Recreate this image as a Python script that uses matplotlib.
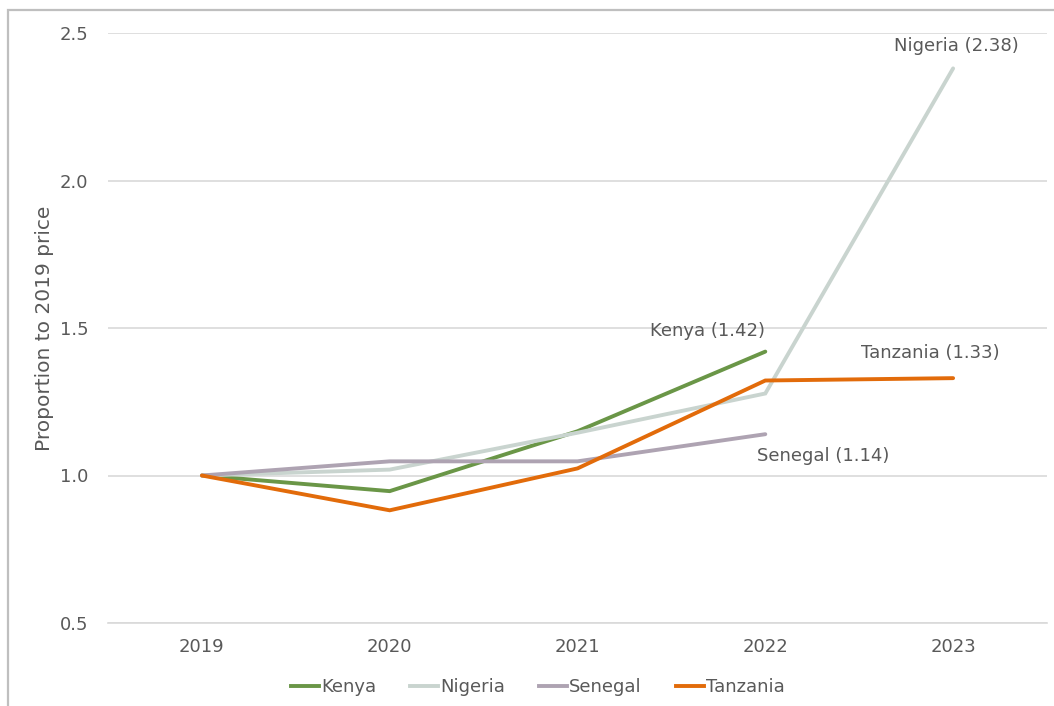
import matplotlib
matplotlib.use("Agg")
import matplotlib.pyplot as plt
from matplotlib.patches import Rectangle
from matplotlib.lines import Line2D

years = ["2019", "2020", "2021", "2022", "2023"]
kenya = [1.0, 0.947, 1.15, 1.42, None]
nigeria = [1.0, 1.02, 1.145, 1.278, 2.38]
senegal = [1.0, 1.048, 1.048, 1.14, None]
tanzania = [1.0, 0.882, 1.024, 1.322, 1.33]

series_names = ["Kenya", "Nigeria", "Senegal", "Tanzania"]
series_values = [kenya, nigeria, senegal, tanzania]
series_colors = ["#6A9647", "#C9D4CF", "#AEA3B2", "#E26B0A"]
y_ticks = [0.5, 1.0, 1.5, 2.0, 2.5]

text_color = "#595959"
grid_color = "#D9D9D9"
font = "DejaVu Sans"
fs = 13
lw = 2.8

fig = plt.figure(figsize=(10.54, 7.06), dpi=100)
fig.patch.set_facecolor("white")

# chart-area border (open to the right and bottom)
fig.add_artist(Rectangle((8 / 1054, -0.05), 1.2, 1 - 10 / 706 + 0.05,
                         transform=fig.transFigure, fill=False,
                         edgecolor="#BFBFBF", linewidth=1.6))

ax = fig.add_axes([108 / 1054, 1 - 623 / 706, (1047 - 108) / 1054, (623 - 33) / 706])
x = list(range(len(years)))

for name, vals, col in zip(series_names, series_values, series_colors):
    xs = [i for i, v in zip(x, vals) if v is not None]
    ys = [v for v in vals if v is not None]
    ax.plot(xs, ys, color=col, linewidth=lw, solid_capstyle="round",
            solid_joinstyle="miter", label=name, zorder=3)

ax.set_xlim(-0.5, len(years) - 0.5)
ax.set_ylim(0.5, 2.5)
ax.set_yticks(y_ticks)
ax.set_yticklabels([f"{t:.1f}" for t in y_ticks], fontsize=fs,
                   color=text_color, family=font)
ax.set_xticks(x)
ax.set_xticklabels(years, fontsize=fs, color=text_color, family=font)
ax.tick_params(axis="both", length=0)
ax.tick_params(axis="y", pad=14)
ax.tick_params(axis="x", pad=11)
ax.grid(axis="y", color=grid_color, linewidth=1.2)
ax.set_axisbelow(True)
for s in ["top", "right", "left"]:
    ax.spines[s].set_visible(False)
ax.spines["bottom"].set_color(grid_color)
ax.spines["bottom"].set_linewidth(1.2)

ax.set_ylabel("Proportion to 2019 price", fontsize=14.5, color=text_color,
              family=font)
ax.yaxis.set_label_coords(-0.058, 0.5)

# end-of-line value labels
ax.text(4.35, nigeria[4] + 0.075, f"Nigeria ({nigeria[4]:.2f})", ha="right",
        va="center", fontsize=fs, color=text_color, family=font)
ax.text(3.0, kenya[3] + 0.07, f"Kenya ({kenya[3]:.2f})", ha="right",
        va="center", fontsize=fs, color=text_color, family=font)
ax.text(3.88, tanzania[4] + 0.085, f"Tanzania ({tanzania[4]:.2f})", ha="center",
        va="center", fontsize=fs, color=text_color, family=font)
ax.text(3.31, senegal[3] - 0.075, f"Senegal ({senegal[3]:.2f})", ha="center",
        va="center", fontsize=fs, color=text_color, family=font)

handles = [Line2D([0], [0], color=c, linewidth=lw) for c in series_colors]
leg = fig.legend(handles, series_names, loc="center", ncol=4,
                 bbox_to_anchor=(538 / 1054, 1 - 687 / 706), frameon=False,
                 handlelength=1.55, handletextpad=0.1, columnspacing=1.9,
                 prop={"family": font, "size": fs})
for t in leg.get_texts():
    t.set_color(text_color)

fig.savefig("out.png", dpi=100, facecolor="white")
